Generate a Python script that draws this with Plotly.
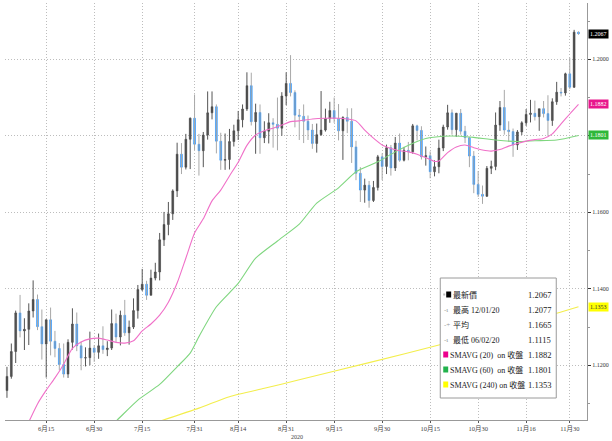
import numpy as np
import pandas as pd
import plotly.graph_objects as go

# ---------------- data (EUR/USD daily) ----------------
dates = [d.strftime("%Y-%m-%d") for d in pd.bdate_range("2020-06-02", "2020-12-02")]

opens = [1.1134, 1.1171, 1.1236, 1.1337, 1.1290, 1.1294, 1.1342, 1.1372, 1.1301, 1.1256,
         1.1319, 1.1263, 1.1244, 1.1202, 1.1177, 1.1260, 1.1308, 1.1251, 1.1219, 1.1220,
         1.1245, 1.1234, 1.1251, 1.1241, 1.1245, 1.1309, 1.1274, 1.1331, 1.1285, 1.1300,
         1.1343, 1.1398, 1.1412, 1.1383, 1.1428, 1.1444, 1.1528, 1.1568, 1.1596, 1.1656,
         1.1752, 1.1718, 1.1791, 1.1846, 1.1778, 1.1761, 1.1802, 1.1860, 1.1876, 1.1786,
         1.1736, 1.1738, 1.1785, 1.1813, 1.1842, 1.1870, 1.1931, 1.1837, 1.1861, 1.1795,
         1.1812, 1.1834, 1.1830, 1.1820, 1.1904, 1.1937, 1.1913, 1.1854, 1.1851, 1.1838,
         1.1815, 1.1780, 1.1803, 1.1815, 1.1845, 1.1866, 1.1845, 1.1813, 1.1848, 1.1838,
         1.1771, 1.1702, 1.1658, 1.1671, 1.1631, 1.1665, 1.1745, 1.1720, 1.1769, 1.1716,
         1.1781, 1.1736, 1.1762, 1.1758, 1.1826, 1.1814, 1.1745, 1.1748, 1.1706, 1.1719,
         1.1768, 1.1823, 1.1860, 1.1816, 1.1859, 1.1812, 1.1795, 1.1747, 1.1673, 1.1647,
         1.1642, 1.1715, 1.1720, 1.1828, 1.1874, 1.1815, 1.1811, 1.1776, 1.1810, 1.1834,
         1.1856, 1.1859, 1.1850, 1.1871, 1.1858, 1.1840, 1.1889, 1.1914, 1.1912, 1.1962,
         1.1927, 1.2071]
highs = [1.1196, 1.1257, 1.1343, 1.1384, 1.1323, 1.1362, 1.1422, 1.1385, 1.1346, 1.1320,
         1.1351, 1.1290, 1.1258, 1.1257, 1.1268, 1.1349, 1.1338, 1.1262, 1.1247, 1.1288,
         1.1253, 1.1283, 1.1302, 1.1263, 1.1346, 1.1335, 1.1343, 1.1371, 1.1317, 1.1375,
         1.1410, 1.1452, 1.1421, 1.1450, 1.1468, 1.1546, 1.1601, 1.1627, 1.1660, 1.1782,
         1.1781, 1.1805, 1.1848, 1.1908, 1.1805, 1.1810, 1.1916, 1.1916, 1.1882, 1.1808,
         1.1806, 1.1818, 1.1829, 1.1865, 1.1882, 1.1966, 1.1965, 1.1884, 1.1882, 1.1838,
         1.1859, 1.1846, 1.1900, 1.1914, 1.1966, 1.2011, 1.1919, 1.1870, 1.1882, 1.1853,
         1.1831, 1.1832, 1.1917, 1.1871, 1.1889, 1.1900, 1.1883, 1.1851, 1.1872, 1.1872,
         1.1787, 1.1718, 1.1688, 1.1682, 1.1682, 1.1750, 1.1754, 1.1777, 1.1776, 1.1797,
         1.1806, 1.1771, 1.1784, 1.1831, 1.1829, 1.1825, 1.1772, 1.1759, 1.1736, 1.1790,
         1.1829, 1.1881, 1.1869, 1.1860, 1.1870, 1.1826, 1.1797, 1.1760, 1.1708, 1.1670,
         1.1721, 1.1735, 1.1861, 1.1891, 1.1920, 1.1838, 1.1819, 1.1815, 1.1838, 1.1870,
         1.1894, 1.1892, 1.1870, 1.1891, 1.1906, 1.1898, 1.1941, 1.1925, 1.1965, 1.2004,
         1.2077, 1.2073]
lows = [1.1115, 1.1165, 1.1206, 1.1273, 1.1240, 1.1253, 1.1325, 1.1292, 1.1215, 1.1168,
        1.1226, 1.1221, 1.1187, 1.1168, 1.1167, 1.1241, 1.1237, 1.1187, 1.1197, 1.1200,
        1.1209, 1.1217, 1.1230, 1.1224, 1.1240, 1.1261, 1.1252, 1.1277, 1.1254, 1.1295,
        1.1322, 1.1394, 1.1371, 1.1383, 1.1422, 1.1422, 1.1512, 1.1540, 1.1580, 1.1640,
        1.1700, 1.1712, 1.1713, 1.1763, 1.1696, 1.1718, 1.1790, 1.1843, 1.1754, 1.1711,
        1.1711, 1.1712, 1.1772, 1.1789, 1.1822, 1.1865, 1.1827, 1.1753, 1.1753, 1.1781,
        1.1780, 1.1769, 1.1762, 1.1800, 1.1880, 1.1903, 1.1822, 1.1789, 1.1781, 1.1789,
        1.1766, 1.1756, 1.1800, 1.1811, 1.1834, 1.1834, 1.1788, 1.1737, 1.1807, 1.1729,
        1.1684, 1.1627, 1.1625, 1.1612, 1.1627, 1.1657, 1.1684, 1.1700, 1.1696, 1.1708,
        1.1732, 1.1733, 1.1736, 1.1753, 1.1788, 1.1738, 1.1722, 1.1689, 1.1694, 1.1702,
        1.1760, 1.1816, 1.1803, 1.1797, 1.1803, 1.1781, 1.1718, 1.1650, 1.1640, 1.1622,
        1.1640, 1.1700, 1.1710, 1.1813, 1.1803, 1.1784, 1.1745, 1.1763, 1.1802, 1.1826,
        1.1835, 1.1840, 1.1813, 1.1848, 1.1800, 1.1826, 1.1881, 1.1903, 1.1905, 1.1922,
        1.1925, 1.2064]
closes = [1.1171, 1.1236, 1.1337, 1.1290, 1.1294, 1.1342, 1.1372, 1.1301, 1.1256, 1.1319,
          1.1263, 1.1244, 1.1202, 1.1177, 1.1260, 1.1308, 1.1251, 1.1219, 1.1220, 1.1245,
          1.1234, 1.1251, 1.1241, 1.1245, 1.1309, 1.1274, 1.1331, 1.1285, 1.1300, 1.1343,
          1.1398, 1.1412, 1.1383, 1.1428, 1.1444, 1.1528, 1.1568, 1.1596, 1.1656, 1.1752,
          1.1718, 1.1791, 1.1846, 1.1778, 1.1761, 1.1802, 1.1860, 1.1876, 1.1786, 1.1736,
          1.1738, 1.1785, 1.1813, 1.1842, 1.1870, 1.1931, 1.1837, 1.1861, 1.1795, 1.1812,
          1.1834, 1.1830, 1.1820, 1.1904, 1.1937, 1.1913, 1.1854, 1.1851, 1.1838, 1.1815,
          1.1780, 1.1803, 1.1815, 1.1845, 1.1866, 1.1845, 1.1813, 1.1848, 1.1838, 1.1771,
          1.1702, 1.1658, 1.1671, 1.1631, 1.1665, 1.1745, 1.1720, 1.1769, 1.1716, 1.1781,
          1.1736, 1.1762, 1.1758, 1.1826, 1.1814, 1.1745, 1.1748, 1.1706, 1.1719, 1.1768,
          1.1823, 1.1860, 1.1816, 1.1859, 1.1812, 1.1795, 1.1747, 1.1673, 1.1647, 1.1642,
          1.1715, 1.1720, 1.1828, 1.1874, 1.1815, 1.1811, 1.1776, 1.1810, 1.1834, 1.1856,
          1.1859, 1.1850, 1.1871, 1.1858, 1.1840, 1.1889, 1.1914, 1.1912, 1.1962, 1.1927,
          1.2071, 1.2067]

# moving averages (index into dates, value)
sma20_idx = [4, 5, 7, 9, 11, 13, 15, 17, 19, 21, 23, 25, 27, 29, 31, 33, 35, 37, 39, 41,
             43, 45, 47, 49, 51, 53, 55, 57, 59, 61, 63, 65, 67, 70, 73, 76, 78, 80, 82, 84,
             86, 88, 90, 92, 94, 96, 98, 99, 101, 103, 105, 107, 109, 111, 113, 115, 117, 119, 121, 123,
             125, 127, 129, 131]
sma20_val = [1.1029, 1.1052, 1.1099, 1.1135, 1.1167, 1.1203, 1.1244, 1.1261, 1.1269, 1.1271,
             1.1266, 1.1260, 1.1258, 1.1264, 1.1290, 1.1308, 1.1331, 1.1365, 1.1415, 1.1480,
             1.1546, 1.1583, 1.1630, 1.1658, 1.1695, 1.1731, 1.1775, 1.1802, 1.1813, 1.1820,
             1.1828, 1.1837, 1.1839, 1.1844, 1.1846, 1.1846, 1.1844, 1.1839, 1.1815, 1.1794,
             1.1776, 1.1767, 1.1761, 1.1758, 1.1752, 1.1743, 1.1733, 1.1734, 1.1756, 1.1771,
             1.1776, 1.1769, 1.1763, 1.1760, 1.1764, 1.1773, 1.1780, 1.1786, 1.1790, 1.1793,
             1.1805, 1.1831, 1.1857, 1.1882]
sma60_idx = [24, 25, 30, 35, 39, 42, 44, 48, 53, 57, 62, 67, 71, 76, 80, 85, 89, 94, 96, 100,
             104, 107, 112, 117, 121, 126, 131]
sma60_val = [1.1045, 1.1054, 1.1109, 1.1150, 1.1196, 1.1232, 1.1275, 1.1353, 1.1414, 1.1480,
             1.1525, 1.1569, 1.1624, 1.1664, 1.1706, 1.1732, 1.1758, 1.1785, 1.1793, 1.1799,
             1.1799, 1.1796, 1.1789, 1.1785, 1.1787, 1.1789, 1.1801]
sma240_idx = [34, 44, 51, 59, 67, 83, 99, 126, 131]
sma240_val = [1.1050, 1.1088, 1.1118, 1.1140, 1.1162, 1.1207, 1.1253, 1.1336, 1.1353]

tick_idx = [9, 20, 31, 43, 53, 64, 75, 86, 97, 108, 119, 129]
tick_text = ["6月15", "6月30", "7月15", "7月31", "8月14", "8月31", "9月15", "9月30",
             "10月15", "10月30", "11月16", "11月30"]

# y-axis ticks; the 1.1800 label is hidden behind the green value tag in the original
y_tickvals = [1.12, 1.14, 1.16, 1.18, 1.20]
y_ticktext = ["1.1200", "1.1400", "1.1600", "", "1.2000"]

legend_labels = ["最新價", "最高 12/01/20", "平均", "最低 06/02/20",
                 "SMAVG (20)  on 收盤", "SMAVG (60)  on 收盤", "SMAVG (240) on 收盤"]
legend_values = ["1.2067", "1.2077", "1.1665", "1.1115", "1.1882", "1.1801", "1.1353"]

# ---------------- styling ----------------
UP = "#3c3c3c"
DOWN = "#1e8fff"
PINK = "#f070c8"
GREEN = "#7fd67f"
YELLOW = "#f3ee4c"
FONT = "Liberation Serif, Noto Sans CJK TC, serif"
GRID = dict(showgrid=True, gridcolor="#bdbdbd", griddash="1px,2px", gridwidth=1)

W, H = 612, 441
ML, MR, MT, MB = 5, 20, 3, 21
PW, PH = W - ML - MR, H - MT - MB


def px(x):
    return (x - ML) / PW


def py(y):
    return (H - MB - y) / PH


o = np.array(opens)
c = np.array(closes)

fig = go.Figure()
# wicks
fig.add_trace(go.Ohlc(x=dates, open=opens, high=highs, low=lows, close=closes,
                      tickwidth=0,
                      increasing=dict(line=dict(color="#555555", width=1)),
                      decreasing=dict(line=dict(color="#a8a8a8", width=1)),
                      hoverinfo="skip"))
# bodies
fig.add_trace(go.Candlestick(x=dates, open=opens, close=closes,
                             high=np.maximum(o, c), low=np.minimum(o, c),
                             increasing=dict(line=dict(color=UP, width=0.5), fillcolor=UP),
                             decreasing=dict(line=dict(color=DOWN, width=0.5), fillcolor=DOWN),
                             whiskerwidth=0, hoverinfo="skip"))

for idx, val, col in [(sma240_idx, sma240_val, YELLOW),
                      (sma60_idx, sma60_val, GREEN),
                      (sma20_idx, sma20_val, PINK)]:
    fig.add_trace(go.Scatter(x=[dates[i] for i in idx], y=val, mode="lines",
                             line=dict(color=col, width=1.1, shape="spline", smoothing=0.6),
                             hoverinfo="skip"))

shapes = []
annotations = []

# legend box
shapes.append(dict(type="rect", xref="paper", yref="paper",
                   x0=px(444), x1=px(561), y0=py(398), y1=py(278),
                   fillcolor="white", line=dict(color="#9a9a9a", width=1), layer="above"))
rows_y = [294.5, 309.5, 324.5, 339.5, 354.5, 369.5, 384.5]
sq_cols = ["#000000", None, None, None, "#ec008c", "#22b24c", "#ffff00"]
icons = ["", "-ı", "-+", "-ı", "", "", ""]
for k, yy in enumerate(rows_y):
    if k == 0:
        shapes.append(dict(type="rect", xref="paper", yref="paper",
                           x0=px(447), x1=px(449), y0=py(yy + 1), y1=py(yy - 1),
                           fillcolor="#bbbbbb", line=dict(width=0), layer="above"))
        shapes.append(dict(type="rect", xref="paper", yref="paper",
                           x0=px(450), x1=px(455), y0=py(yy + 3), y1=py(yy - 3),
                           fillcolor="#000000", line=dict(width=0), layer="above"))
    elif sq_cols[k]:
        shapes.append(dict(type="rect", xref="paper", yref="paper",
                           x0=px(447), x1=px(452), y0=py(yy + 3), y1=py(yy - 3),
                           fillcolor=sq_cols[k], line=dict(width=0), layer="above"))
    if icons[k]:
        annotations.append(dict(xref="paper", yref="paper", x=px(446), y=py(yy),
                                text=icons[k], showarrow=False, xanchor="left", yanchor="middle",
                                font=dict(family=FONT, size=7, color="#999999")))
    annotations.append(dict(xref="paper", yref="paper", x=px(455 if k < 4 else 452), y=py(yy),
                            text=legend_labels[k], showarrow=False, xanchor="left",
                            yanchor="middle",
                            font=dict(family=FONT, size=8, color="#222222")))
    annotations.append(dict(xref="paper", yref="paper", x=px(558), y=py(yy),
                            text=legend_values[k], showarrow=False, xanchor="right",
                            yanchor="middle",
                            font=dict(family=FONT, size=8.5, color="#222222")))

# right-axis value tags
for val, bg, fg in [(closes[-1], "#000000", "white"),
                    (sma20_val[-1], "#e8168c", "white"),
                    (sma60_val[-1], "#2fb83a", "white"),
                    (sma240_val[-1], "#ffff00", "#333333")]:
    annotations.append(dict(xref="paper", yref="y", x=1, y=val, xanchor="left",
                            yanchor="middle", xshift=1, text=f"{val:.4f}", showarrow=False,
                            bgcolor=bg, borderpad=1,
                            font=dict(family=FONT, size=6, color=fg)))

annotations.append(dict(xref="paper", yref="paper", x=px(300), y=py(437), text="2020",
                        showarrow=False, xanchor="center", yanchor="middle",
                        font=dict(family=FONT, size=6, color="#444444")))

fig.update_layout(
    width=W, height=H,
    margin=dict(l=ML, r=MR, t=MT, b=MB),
    paper_bgcolor="white", plot_bgcolor="white",
    showlegend=False,
    boxgap=0.4,
    shapes=shapes, annotations=annotations,
    xaxis=dict(type="category", range=[-0.45, 132.95],
               rangeslider=dict(visible=False),
               tickmode="array", tickvals=[dates[i] for i in tick_idx], ticktext=tick_text,
               ticks="outside", ticklen=2, tickcolor="#555555",
               tickfont=dict(family=FONT, size=6.5, color="#444444"),
               showline=True, linecolor="#999999", linewidth=1,
               zeroline=False, **GRID),
    yaxis=dict(side="right", range=[1.10570, 1.21472],
               tickmode="array", tickvals=y_tickvals, ticktext=y_ticktext,
               ticks="outside", ticklen=3, tickcolor="#333333",
               tickfont=dict(family=FONT, size=6, color="#333333"),
               minor=dict(dtick=0.01, ticks="outside", ticklen=2, tickcolor="#999999",
                          showgrid=False),
               showline=True, linecolor="#999999", linewidth=1,
               zeroline=False, **GRID),
)

assert len(dates) == len(opens) == len(highs) == len(lows) == len(closes)
fig.write_html("out.html", config={"displayModeBar": False},
               post_script="document.body.style.margin='0';document.body.style.padding='0';"
                           "document.documentElement.style.overflow='hidden';")
